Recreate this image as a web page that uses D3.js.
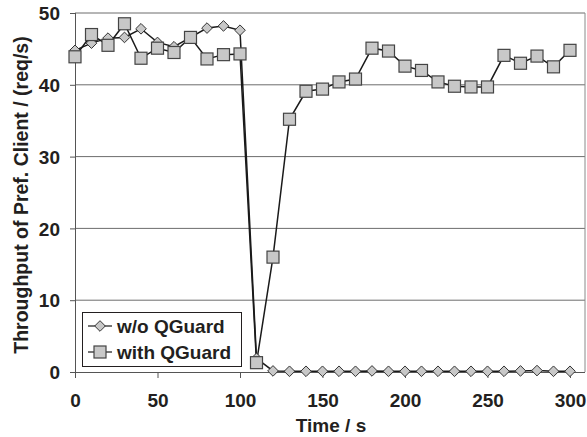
<!DOCTYPE html>
<html><head><meta charset="utf-8">
<script src="https://cdn.jsdelivr.net/npm/d3@7"></script>
<style>
body{margin:0;background:#fff;}
text{font-family:"Liberation Sans",Arial,sans-serif;font-weight:bold;fill:#231f20;}
</style></head>
<body><svg id="c" width="587" height="437"></svg>
<script>
const times = d3.range(0, 301, 10);
const withoutQGuard = [44.8,45.8,46.5,46.6,47.8,45.9,45.3,46.6,47.9,48.2,47.6,1.9,0.15,0.1,0.1,0.1,0.1,0.1,0.15,0.1,0.1,0.1,0.1,0.1,0.1,0.1,0.1,0.15,0.2,0.1,0.1];
const withQGuard = [43.9,47.0,45.5,48.5,43.7,45.1,44.5,46.6,43.6,44.2,44.3,1.3,16.0,35.2,39.1,39.4,40.4,40.8,45.1,44.7,42.6,42.0,40.4,39.8,39.7,39.7,44.1,43.0,44.0,42.5,44.8];
const xTicks = [0,50,100,150,200,250,300];
const yTicks = [0,10,20,30,40,50];
const seriesNames = ["w/o QGuard","with QGuard"];

const svg = d3.select("#c");
const x = d3.scaleLinear().domain([0,300]).range([75,570]);
const y = d3.scaleLinear().domain([0,50]).range([372,13]);
const plotRight = 585;

svg.append("g").selectAll("line").data(yTicks.filter(d=>d>0)).join("line")
  .attr("x1",75).attr("x2",plotRight).attr("y1",d=>y(d)).attr("y2",d=>y(d))
  .attr("stroke","#6d6d6d").attr("stroke-width",1);
svg.append("line").attr("x1",plotRight).attr("x2",plotRight).attr("y1",y(50)).attr("y2",y(0))
  .attr("stroke","#8a8a8a").attr("stroke-width",1);

const xAxis = svg.append("g").attr("transform","translate(0,"+y(0)+")")
  .call(d3.axisBottom(x).tickValues(xTicks).tickSize(6).tickPadding(16).tickFormat(d3.format("d")));
xAxis.select(".domain").attr("d","M75,0.5H"+plotRight).attr("stroke","#555");
xAxis.selectAll(".tick line").attr("stroke","#555");
xAxis.selectAll("text").style("font-size","19px").attr("fill","#231f20");
const yAxis = svg.append("g").attr("transform","translate(75,0)")
  .call(d3.axisLeft(y).tickValues(yTicks).tickSize(5).tickPadding(10));
yAxis.select(".domain").attr("stroke","#555").attr("d","M0.5,"+y(50)+"V"+(y(0)+6));
yAxis.selectAll(".tick line").attr("stroke","#555");
yAxis.selectAll("text").style("font-size","19px").attr("dy","0.35em").attr("fill","#231f20");

svg.append("text").attr("x",331).attr("y",432).attr("text-anchor","middle").style("font-size","19px").text("Time / s");
svg.append("text").attr("transform","translate(28,195) rotate(-90)").attr("text-anchor","middle").style("font-size","19.5px").text("Throughput of Pref. Client / (req/s)");

const line = d3.line().x((d,i)=>x(times[i])).y(d=>y(d));
const symDiamond = d3.symbol().type(d3.symbolDiamond2).size(72);

svg.append("path").datum(withQGuard).attr("d",line).attr("fill","none").attr("stroke","#1a1a1a").attr("stroke-width",1.5);
svg.append("path").datum(withoutQGuard).attr("d",line).attr("fill","none").attr("stroke","#1a1a1a").attr("stroke-width",1.5);

svg.append("g").selectAll("path").data(withoutQGuard).join("path")
  .attr("d",symDiamond).attr("transform",(d,i)=>"translate("+x(times[i])+","+y(d)+")")
  .attr("fill","#c8c8c8").attr("stroke","#333").attr("stroke-width",1);
svg.append("g").selectAll("rect").data(withQGuard).join("rect")
  .attr("x",(d,i)=>x(times[i])-6).attr("y",d=>y(d)-6).attr("width",12).attr("height",12)
  .attr("fill","#c8c8c8").attr("stroke","#444").attr("stroke-width",1.2);

const lg = svg.append("g");
lg.append("rect").attr("x",82.5).attr("y",312.5).attr("width",159).attr("height",54)
  .attr("fill","#fff").attr("stroke","#231f20").attr("stroke-width",1);
seriesNames.forEach((name,i)=>{
  const cy = 326 + i*26;
  lg.append("line").attr("x1",88).attr("x2",112).attr("y1",cy).attr("y2",cy).attr("stroke","#1a1a1a").attr("stroke-width",1.2);
  if(i===0){
    lg.append("path").attr("d",symDiamond).attr("transform","translate(100,"+cy+")").attr("fill","#c8c8c8").attr("stroke","#333");
  } else {
    lg.append("rect").attr("x",94).attr("y",cy-6).attr("width",12).attr("height",12).attr("fill","#c8c8c8").attr("stroke","#444").attr("stroke-width",1.2);
  }
  lg.append("text").attr("x",117).attr("y",cy).attr("dy","0.36em").style("font-size","19px").text(name);
});
</script></body></html>
